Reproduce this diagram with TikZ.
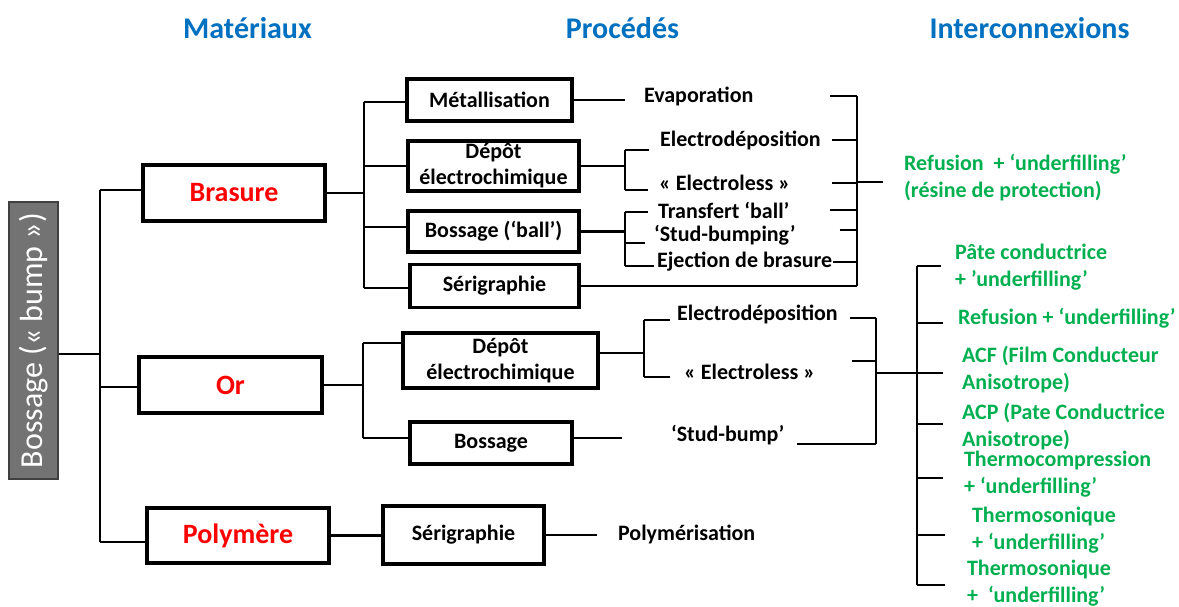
\documentclass[tikz,border=0pt]{standalone}
\usepackage{fontspec}
\setmainfont{Carlito}
\definecolor{hdrblue}{HTML}{0070C0}
\definecolor{matred}{HTML}{FF0000}
\definecolor{intgreen}{HTML}{00B050}
\definecolor{bumpgray}{HTML}{737373}
\tikzset{
  box/.style={draw, line width=1.6pt, inner sep=0pt, align=center, font=\fontsize{11}{13}\selectfont\bfseries},
  matbox/.style={box, text=matred, font=\fontsize{14}{16}\selectfont\bfseries},
  lbl/.style={inner sep=0pt, anchor=west, font=\fontsize{11}{13}\selectfont\bfseries},
  itc/.style={lbl, text=intgreen, align=left, font=\fontsize{11}{13.5}\selectfont\bfseries},
  hdr/.style={text=hdrblue, font=\fontsize{15}{18}\selectfont\bfseries},
}
\begin{document}
\begin{tikzpicture}[x=0.5pt, y=-0.5pt, line width=1.1pt]
		\useasboundingbox (0, 0) rectangle (1179, 606);
		\node [hdr] (h1) at (247.5, 28) {Matériaux};
		\node [hdr] (h2) at (622.5, 28) {Procédés};
		\node [hdr] (h3) at (1029.5, 28) {Interconnexions};
		\node [draw=black!75, line width=0.6pt, fill=bumpgray, text=white, rotate=90, inner sep=0pt, minimum width=138.5pt, minimum height=24.5pt, font=\fontsize{16}{18}\selectfont] (root) at (33.5, 340.5) {Bossage (« bump »)};
		\node [] (t0) at (100, 354) {};
		\node [] (t1) at (100, 190) {};
		\node [] (t2) at (100, 387) {};
		\node [] (t3) at (100, 542) {};
		\node [matbox, minimum width=91pt, minimum height=28pt] (bras) at (234, 193) {Brasure};
		\node [matbox, minimum width=91.5pt, minimum height=28pt] (or) at (230.5, 385) {Or};
		\node [matbox, minimum width=91pt, minimum height=27.5pt] (poly) at (238, 535.5) {Polymère};
		\node [] (b1) at (364, 102) {};
		\node [] (b2) at (364, 166) {};
		\node [] (b3) at (364, 227) {};
		\node [] (b4) at (364, 288) {};
		\node [box, minimum width=82.5pt, minimum height=21pt] (met) at (489.5, 100) {Métallisation};
		\node [box, minimum width=85.5pt, minimum height=25pt] (dep1) at (493.5, 166) {Dépôt\\électrochimique};
		\node [box, minimum width=85.5pt, minimum height=20.5pt] (ball) at (493.5, 231.5) {Bossage (‘ball’)};
		\node [box, minimum width=84.5pt, minimum height=21.5pt] (seri1) at (494.5, 286) {Sérigraphie};
		\node [lbl] (evap) at (643, 96) {Evaporation};
		\node [lbl] (el1) at (659, 140) {Electrodéposition};
		\node [lbl] (ell1) at (658, 183) {« Electroless »};
		\node [lbl] (trf) at (657, 210) {Transfert ‘ball’};
		\node [lbl] (stud1) at (653, 235) {‘Stud-bumping’};
		\node [lbl] (ejec) at (656, 262) {Ejection de brasure};
		\node [] (d1a) at (625, 150) {};
		\node [] (d1b) at (625, 190) {};
		\node [] (k1a) at (625, 212) {};
		\node [] (k1b) at (625, 243) {};
		\node [] (k1c) at (625, 266) {};
		\node [] (r1a) at (857, 96) {};
		\node [] (r1o) at (857, 182) {};
		\node [] (r1c) at (857, 230) {};
		\node [] (r1b) at (857, 286) {};
		\node [itc] (refu1) at (903, 177.5) {Refusion \ + ‘underfilling’\\(résine de protection)};
		\node [] (o1) at (363, 343) {};
		\node [] (o2) at (363, 438) {};
		\node [box, minimum width=97.5pt, minimum height=27.5pt] (dep2) at (500.5, 360.5) {Dépôt\\électrochimique};
		\node [box, minimum width=81pt, minimum height=21pt] (boss) at (491, 443) {Bossage};
		\node [lbl] (el2) at (676, 314) {Electrodéposition};
		\node [lbl] (ell2) at (683, 372) {« Electroless »};
		\node [lbl] (sbump) at (670, 435) {‘Stud-bump’};
		\node [] (d2m) at (644, 353) {};
		\node [] (d2a) at (644, 320) {};
		\node [] (d2b) at (644, 377) {};
		\node [] (r2a) at (876, 318) {};
		\node [] (r2m) at (876, 361) {};
		\node [] (r2o) at (876, 373) {};
		\node [] (r2b) at (876, 444) {};
		\node [] (g1) at (917, 266) {};
		\node [] (g2) at (917, 323) {};
		\node [] (g3) at (917, 373) {};
		\node [] (g4) at (917, 424) {};
		\node [] (g5) at (917, 478) {};
		\node [] (g6) at (917, 535) {};
		\node [] (g7) at (917, 585) {};
		\node [itc] (pate) at (954, 267) {Pâte conductrice\\+ ’underfilling’};
		\node [itc] (refu2) at (957, 318) {Refusion + ‘underfilling’};
		\node [itc] (acf) at (961, 369.5) {ACF (Film Conducteur\\Anisotrope)};
		\node [itc] (acp) at (961, 426.5) {ACP (Pate Conductrice\\Anisotrope)};
		\node [itc] (thc) at (963, 474) {Thermocompression\\+ ‘underfilling’};
		\node [itc] (ths1) at (971, 530.5) {Thermosonique\\+ ‘underfilling’};
		\node [itc] (ths2) at (966, 583.5) {Thermosonique\\+ \ ‘underfilling’};
		\node [box, minimum width=80.5pt, minimum height=29pt] (seri2) at (463.5, 535) {Sérigraphie};
		\node [lbl] (polym) at (617, 534) {Polymérisation};
		\draw [] (t0.center -| root.south) to (t0.center);
		\draw [] (t1.center) to (t3.center);
		\draw [] (t1.center) to (t1.center -| bras.west);
		\draw [] (t2.center) to (t2.center -| or.west);
		\draw [] (t3.center) to (t3.center -| poly.west);
		\draw [] (bras.east) to (bras.east -| b1.center);
		\draw [] (b1.center) to (b4.center);
		\draw [] (b1.center) to (b1.center -| met.west);
		\draw [] (b2.center) to (b2.center -| dep1.west);
		\draw [] (b3.center) to (b3.center -| ball.west);
		\draw [] (b4.center) to (b4.center -| seri1.west);
		\draw [shorten >=9pt] (met.east) to (met.east -| evap.west);
		\draw [] (dep1.east) to (dep1.east -| d1a.center);
		\draw [] (d1a.center) to (d1b.center);
		\draw [shorten >=5pt] (d1a.center) to (d1a.center -| el1.west);
		\draw [shorten >=5pt] (d1b.center) to (d1b.center -| ell1.west);
		\draw [] (ball.east) to (ball.east -| k1a.center);
		\draw [] (k1a.center) to (k1c.center);
		\draw [shorten >=4.5pt] (k1a.center) to (k1a.center -| trf.west);
		\draw [shorten >=4pt] (k1b.center) to (k1b.center -| stud1.west);
		\draw [shorten >=1pt] (k1c.center) to (k1c.center -| ejec.west);
		\draw [] (seri1.east) to (r1b.center);
		\draw [] (r1a.center) to (r1b.center);
		\draw [shorten <=38pt] (evap.east) to (r1a.center);
		\draw [shorten <=5pt] (el1.east) to (el1.east -| r1a.center);
		\draw [shorten <=20.5pt] (ell1.east) to (ell1.east -| r1a.center);
		\draw [shorten >=10pt] (r1o.center) to (r1o.center -| refu1.west);
		\draw [shorten <=20pt] (trf.east) to (trf.east -| r1a.center);
		\draw [shorten <=21.5pt] (r1c.center -| stud1.east) to (r1c.center);
		\draw [] (ejec.east) to (ejec.east -| r1a.center);
		\draw [] (or.east) to (or.east -| o1.center);
		\draw [] (o1.center) to (o2.center);
		\draw [] (o1.center) to (o1.center -| dep2.west);
		\draw [] (o2.center) to (o2.center -| boss.west);
		\draw [] (d2m.center -| dep2.east) to (d2m.center);
		\draw [] (d2a.center) to (d2b.center);
		\draw [shorten >=3pt] (d2a.center) to (d2a.center -| el2.west);
		\draw [shorten >=6.5pt] (d2b.center) to (d2b.center -| ell2.west);
		\draw [shorten >=24pt] (o2.center -| boss.east) to (o2.center -| sbump.west);
		\draw [] (r2a.center) to (r2b.center);
		\draw [shorten <=5.5pt] (r2a.center -| el2.east) to (r2a.center);
		\draw [shorten <=18pt] (r2m.center -| ell2.east) to (r2m.center);
		\draw [shorten <=6pt] (r2b.center -| sbump.east) to (r2b.center);
		\draw [] (r2o.center) to (g3.center);
		\draw [] (g1.center) to (g7.center);
		\draw [shorten >=6.5pt] (g1.center) to (g1.center -| pate.west);
		\draw [shorten >=7pt] (g2.center) to (g2.center -| refu2.west);
		\draw [shorten >=9pt] (g3.center) to (g3.center -| acf.west);
		\draw [shorten >=9pt] (g4.center) to (g4.center -| acp.west);
		\draw [shorten >=10pt] (g5.center) to (g5.center -| thc.west);
		\draw [shorten >=13pt] (g6.center) to (g6.center -| ths1.west);
		\draw [shorten >=10.5pt] (g7.center) to (g7.center -| ths2.west);
		\draw [] (poly.east) to (poly.east -| seri2.west);
		\draw [shorten >=10pt] (seri2.east) to (seri2.east -| polym.west);
\end{tikzpicture}
\end{document}
